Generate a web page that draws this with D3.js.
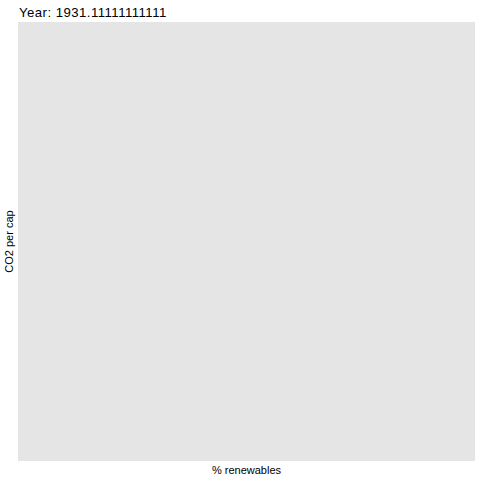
<!DOCTYPE html>
<html><head><meta charset="utf-8">
<script src="https://cdn.jsdelivr.net/npm/d3@7"></script>
<style>html,body{margin:0;padding:0;background:#fff;}svg{display:block;font-family:"Liberation Sans",Arial,sans-serif;}</style>
</head><body>
<script>
const year = 1931.11111111111;
const countries = [];
const renewables = [];
const co2PerCap = [];

const W = 480, H = 480;
const m = {left: 18, right: 5, top: 22, bottom: 19};
const svg = d3.select("body").append("svg").attr("width", W).attr("height", H);
const x = d3.scaleLinear().domain([0, 1]).range([m.left, W - m.right]);
const y = d3.scaleLinear().domain([0, 1]).range([H - m.bottom, m.top]);

svg.append("rect").attr("x", m.left).attr("y", m.top)
  .attr("width", W - m.left - m.right).attr("height", H - m.top - m.bottom)
  .attr("fill", "#e5e5e5");

svg.append("g").selectAll("circle").data(countries.map((c, i) => ({c, r: renewables[i], v: co2PerCap[i]})))
  .join("circle").attr("cx", d => x(d.r)).attr("cy", d => y(d.v)).attr("r", 3).attr("fill", "#000");

svg.append("text").attr("x", 19).attr("y", 17).attr("font-size", 13.2).attr("letter-spacing", 0.45).attr("fill", "#000")
  .text("Year: " + year);
svg.append("text").attr("x", (m.left + W - m.right) / 2).attr("y", 474).attr("text-anchor", "middle")
  .attr("font-size", 11).attr("fill", "#000").text("% renewables");
svg.append("text").attr("transform", `translate(12.5,${(m.top + H - m.bottom) / 2}) rotate(-90)`)
  .attr("text-anchor", "middle").attr("font-size", 11).attr("fill", "#000").text("CO2 per cap");
</script>
</body></html>
